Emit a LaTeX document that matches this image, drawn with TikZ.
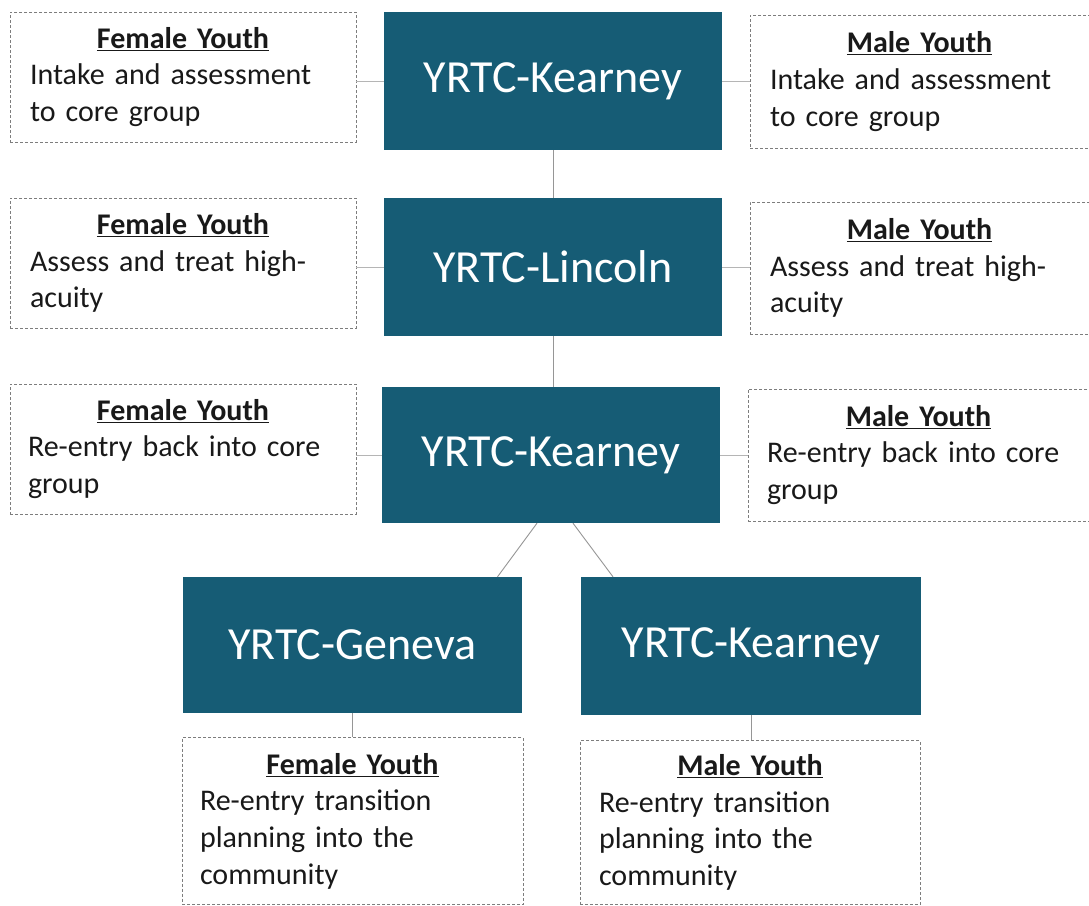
\documentclass[tikz,border=0pt]{standalone}
\usepackage{fontspec}
\setmainfont{Carlito}
\definecolor{darkteal}{RGB}{22,92,117}
\definecolor{linegray}{RGB}{150,150,150}
\definecolor{dashgray}{RGB}{125,125,125}
\definecolor{bodytext}{RGB}{25,25,25}
\begin{document}
\begin{tikzpicture}[x=1pt,y=-1pt,
  site/.style={rectangle, fill=darkteal, text=white, inner sep=0pt,
    font=\fontsize{46}{55}\selectfont},
  info/.style={rectangle, draw=dashgray, line width=0.8pt,
    dash pattern=on 3pt off 2pt, inner xsep=0pt, inner ysep=0pt,
    text=bodytext, align=left, font=\fontsize{30}{36.6}\selectfont},
  conn/.style={draw=linegray, line width=0.9pt},
  sideconn/.style={draw=linegray!70, line width=0.8pt}]
\useasboundingbox (0,0) rectangle (1089,905);
\fill[white] (0,0) rectangle (1089,905);

% dark site boxes
\node[site, minimum width=338pt, minimum height=138pt] (k1) at (553,81) {YRTC-Kearney};
\node[site, minimum width=338pt, minimum height=138pt] (li) at (553,267) {YRTC-Lincoln};
\node[site, minimum width=338pt, minimum height=136pt] (k2) at (551,455) {YRTC-Kearney};
\node[site, minimum width=339pt, minimum height=136pt] (ge) at (352.5,645) {YRTC-Geneva};
\node[site, minimum width=340pt, minimum height=138pt] (k3) at (751,646) {YRTC-Kearney};

% dashed info boxes
\node[info, minimum width=346pt, minimum height=130pt, text width=306pt] (f1) at (183,77)
  {{\centering\bfseries\underline{Female Youth}\par}Intake and assessment\\to core group};
\node[info, minimum width=339pt, minimum height=133pt, text width=299pt] (m1) at (919.5,81.5)
  {{\centering\bfseries\underline{Male Youth}\par}Intake and assessment\\to core group};
\node[info, minimum width=346pt, minimum height=130pt, text width=306pt] (f2) at (183,263)
  {{\centering\bfseries\underline{Female Youth}\par}Assess and treat high-\\acuity};
\node[info, minimum width=339pt, minimum height=132pt, text width=299pt] (m2) at (919.5,268)
  {{\centering\bfseries\underline{Male Youth}\par}Assess and treat high-\\acuity};
\node[info, minimum width=346pt, minimum height=130pt, text width=310pt] (f3) at (183,449)
  {{\centering\bfseries\underline{Female Youth}\par}Re-entry back into core\\group};
\node[info, minimum width=341pt, minimum height=132pt, text width=303pt] (m3) at (918.5,455)
  {{\centering\bfseries\underline{Male Youth}\par}Re-entry back into core\\group};
\node[info, minimum width=341pt, minimum height=167pt, text width=305pt] (f4) at (352.5,821)
  {{\centering\bfseries\underline{Female Youth}\par}Re-entry transition\\planning into the\\community};
\node[info, minimum width=340pt, minimum height=164pt, text width=302pt] (m4) at (750,822.5)
  {{\centering\bfseries\underline{Male Youth}\par}Re-entry transition\\planning into the\\community};

% connectors
\draw[conn] (k1.south) -- (li.north);
\draw[conn] (li.south) -- (li.south |- k2.north);
\draw[conn] ([xshift=-14pt]k2.south) -- ([xshift=145pt]ge.north);
\draw[conn] ([xshift=22pt]k2.south) -- ([xshift=-138pt]k3.north);
\draw[conn] (ge.south) -- (f4.north);
\draw[conn] (k3.south) -- (k3.south |- m4.north);
\draw[sideconn] (k1.west) -- (k1.west -| f1.east);
\draw[sideconn] (k1.east) -- (k1.east -| m1.west);
\draw[sideconn] (li.west) -- (li.west -| f2.east);
\draw[sideconn] (li.east) -- (li.east -| m2.west);
\draw[sideconn] (k2.west) -- (k2.west -| f3.east);
\draw[sideconn] (k2.east) -- (k2.east -| m3.west);
\end{tikzpicture}
\end{document}
